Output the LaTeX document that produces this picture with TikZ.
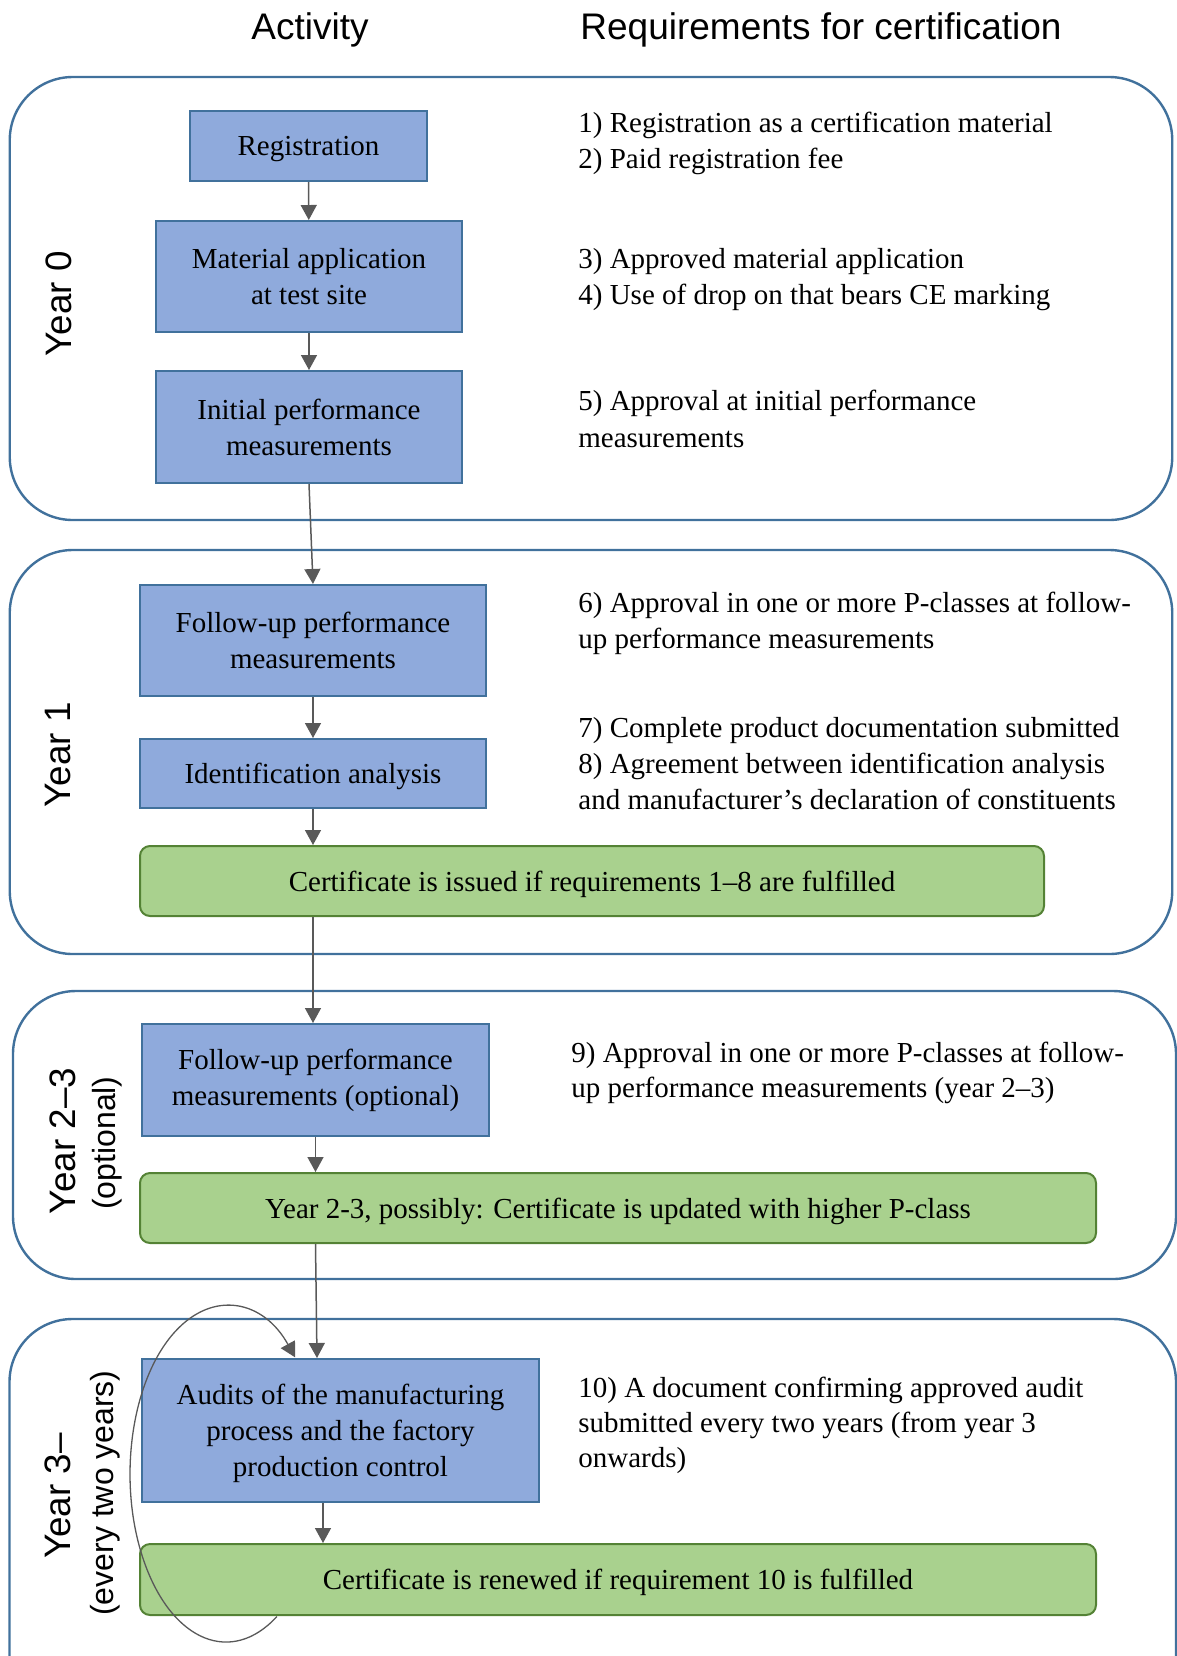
\documentclass[tikz,border=0pt]{standalone}
\usepackage{fontspec}
\setmainfont{Liberation Serif}
\newfontfamily\arialf{Liberation Sans}
\usetikzlibrary{arrows.meta}
\definecolor{bluefill}{HTML}{8FAADC}
\definecolor{blueline}{HTML}{41719C}
\definecolor{greenfill}{HTML}{A9D18E}
\definecolor{greenline}{HTML}{548235}
\definecolor{grpline}{HTML}{41719C}
\definecolor{arrgray}{HTML}{595959}
\begin{document}
\begin{tikzpicture}[x=0.5pt,y=-0.5pt,
 bodyfont/.style={font=\fontsize{14.5}{18}\selectfont},
 actbox/.style={draw=blueline, fill=bluefill, line width=1pt, bodyfont, align=center, inner sep=0pt},
 certbox/.style={draw=greenline, fill=greenfill, line width=1pt, rounded corners=5pt, bodyfont, align=center, inner sep=0pt, text depth=0pt},
 oneline/.style={text depth=0pt},
 grp/.style={draw=grpline, line width=1.2pt, rounded corners=31.5pt, inner sep=0pt},
 req/.style={bodyfont, anchor=base west, inner sep=0pt},
 yearlbl/.style={font=\arialf\fontsize{18.4}{20}\selectfont, rotate=90, inner sep=0pt},
 yearsub/.style={font=\arialf\fontsize{16}{18}\selectfont, rotate=90, inner sep=0pt},
 head/.style={font=\arialf\fontsize{18.5}{22}\selectfont, inner sep=0pt, anchor=base},
 flow/.style={draw=arrgray, line width=0.75pt, -{Triangle[length=7.5pt,width=8pt]}},
 loopline/.style={draw=arrgray, line width=0.65pt, -{Triangle[length=7.5pt,width=8pt]}},
]
\useasboundingbox (0,0) rectangle (1177,1656);
\begin{scope}
\clip (0,0) rectangle (1177,1656);

% group frames
\node[grp, minimum width=581.25pt, minimum height=221.5pt] (g0) at (591,298.5) {};
\node[grp, minimum width=581.25pt, minimum height=202pt] (g1) at (591,752) {};
\node[grp, minimum width=581.5pt, minimum height=144pt] (g2) at (594.5,1135) {};
\node[grp, minimum width=583.25pt, minimum height=210.5pt] (g3) at (592.75,1529.5) {};

% headers
\node[head] (hact) at (310,39) {Activity};
\node[head] (hreq) at (821,39) {Requirements for certification};

% year labels
\node[yearlbl] (y0) at (58.5,304) {Year 0};
\node[yearlbl] (y1) at (58.5,755) {Year 1};
\node[yearlbl] (y2) at (62.5,1141) {Year 2–3};
\node[yearsub] (y2s) at (107.5,1143) {(optional)};
\node[yearlbl] (y3) at (57.5,1496) {Year 3–};
\node[yearsub] (y3s) at (105.5,1493) {(every two years)};

% activity boxes
\node[actbox, oneline, minimum width=118.5pt, minimum height=35pt] (reg) at (308.5,146) {Registration};
\node[actbox, minimum width=153pt, minimum height=55.5pt] (mat) at (309,276.5) {Material application\\at test site};
\node[actbox, minimum width=153pt, minimum height=56pt] (init) at (309,427) {Initial performance\\measurements};
\node[actbox, minimum width=173pt, minimum height=55.5pt] (fu1) at (313,640.5) {Follow-up performance\\measurements};
\node[actbox, oneline, minimum width=173pt, minimum height=34.5pt] (ident) at (313,773.5) {Identification analysis};
\node[certbox, minimum width=452pt, minimum height=35pt] (cert1) at (592,881) {Certificate is issued if requirements 1–8 are fulfilled};
\node[actbox, minimum width=173.5pt, minimum height=56pt] (fu2) at (315.5,1080) {Follow-up performance\\measurements (optional)};
\node[certbox, minimum width=478pt, minimum height=35pt] (cert2) at (618,1208) {Year 2-3, possibly: Certificate is updated with higher P-class};
\node[actbox, oneline, minimum width=198.5pt, minimum height=71.5pt] (audit) at (340.5,1430.5) {Audits of the manufacturing\\process and the factory\\production control};
\node[certbox, minimum width=478pt, minimum height=35.5pt] (cert3) at (618,1579.5) {Certificate is renewed if requirement 10 is fulfilled};

% requirements
\node[req] (r1a) at (578,132) {1) Registration as a certification material};
\node[req] (r1b) at (578,168) {2) Paid registration fee};
\node[req] (r3a) at (578,268) {3) Approved material application};
\node[req] (r3b) at (578,304) {4) Use of drop on that bears CE marking};
\node[req] (r5a) at (578,410) {5) Approval at initial performance};
\node[req] (r5b) at (578,447) {measurements};
\node[req] (r6a) at (578,612) {6) Approval in one or more P-classes at follow-};
\node[req] (r6b) at (578,648) {up performance measurements};
\node[req] (r7a) at (578,737) {7) Complete product documentation submitted};
\node[req] (r7b) at (578,773) {8) Agreement between identification analysis};
\node[req] (r7c) at (578,809) {and manufacturer’s declaration of constituents};
\node[req] (r9a) at (571,1062) {9) Approval in one or more P-classes at follow-};
\node[req] (r9b) at (571,1097) {up performance measurements (year 2–3)};
\node[req] (r10a) at (578,1397) {10) A document confirming approved audit};
\node[req] (r10b) at (578,1432) {submitted every two years (from year 3};
\node[req] (r10c) at (578,1467) {onwards)};

% connectors
\draw[flow] (reg) -- (mat);
\draw[flow] (mat) -- (init);
\draw[flow] (init.south) -- (fu1.north);
\draw[flow] (fu1) -- (ident);
\draw[flow] (ident.south) -- (ident.south |- cert1.north);
\draw[flow] (cert1.south -| ident.south) -- (fu2.north -| ident.south);
\draw[flow] (fu2.south) -- (fu2.south |- cert2.north);
\draw[flow] (cert2.south -| fu2.south) -- ([xshift=-11.75pt]audit.north);
\draw[flow] ([xshift=-8.75pt]audit.south) -- ([xshift=-8.75pt]audit.south |- cert3.north);

% repeat loop
\coordinate (loopstart) at (276.9,1616.5);
\draw[loopline] (loopstart) arc[start angle=58, end angle=316, x radius=96, y radius=168];
\end{scope}
\end{tikzpicture}
\end{document}
